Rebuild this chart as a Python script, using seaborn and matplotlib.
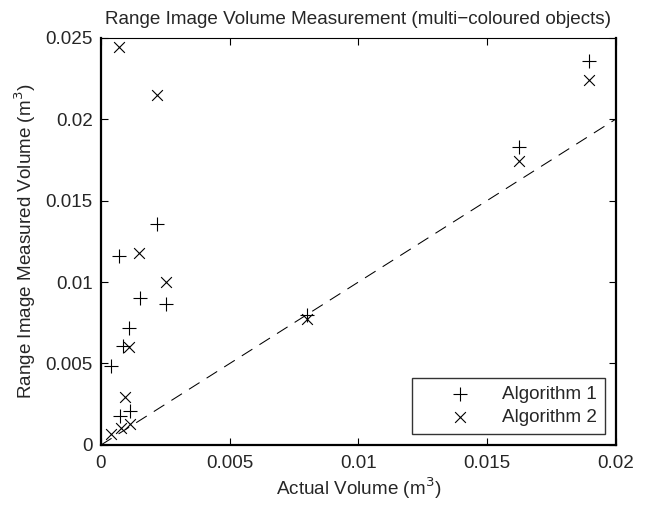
import matplotlib
matplotlib.use("Agg")
import matplotlib.pyplot as plt
import seaborn as sns

# Algorithm 1 (+) points
alg1_x = [0.00219, 0.00070, 0.00151, 0.00252, 0.00110, 0.00084, 0.00039, 0.00074, 0.00113, 0.00801, 0.01623, 0.01894]
alg1_y = [0.01354, 0.01160, 0.00900, 0.00863, 0.00716, 0.00609, 0.00485, 0.00178, 0.00209, 0.00798, 0.01830, 0.02356]

# Algorithm 2 (x) points
alg2_x = [0.00071, 0.00219, 0.00149, 0.00251, 0.00108, 0.00094, 0.00039, 0.00077, 0.00113, 0.00801, 0.01623, 0.01894]
alg2_y = [0.02440, 0.02145, 0.01176, 0.00998, 0.00603, 0.00296, 0.00067, 0.00102, 0.00127, 0.00771, 0.01742, 0.02239]

# ideal y = x line
ideal = [0.0, 0.02]

xticks = [0, 0.005, 0.01, 0.015, 0.02]
yticks = [0, 0.005, 0.01, 0.015, 0.02, 0.025]

sns.set_style("ticks")
plt.rcParams["font.family"] = ["Liberation Sans", "DejaVu Sans"]
fs = 13.6
plt.rcParams["font.size"] = fs

fig = plt.figure(figsize=(6.49, 5.07), dpi=100)
ax = fig.add_axes([0.1556, 0.1223, 0.7935, 0.8037])

sns.lineplot(x=ideal, y=ideal, color="k", lw=0.75, linestyle=(0, (12, 8)), ax=ax)
sns.scatterplot(x=alg1_x, y=alg1_y, marker="+", color="k", s=95, linewidth=0.8,
                label="Algorithm 1", ax=ax)
sns.scatterplot(x=alg2_x, y=alg2_y, marker="x", color="k", s=60, linewidth=0.8,
                label="Algorithm 2", ax=ax)

ax.set_xlim(0, 0.02)
ax.set_ylim(0, 0.025)
ax.set_xticks(xticks)
ax.set_yticks(yticks)
ax.set_xticklabels(["0", "0.005", "0.01", "0.015", "0.02"])
ax.set_yticklabels(["0", "0.005", "0.01", "0.015", "0.02", "0.025"])
ax.tick_params(direction="in", top=True, right=True, length=5, width=0.8,
               labelsize=fs, color="k")
ax.tick_params(axis="x", pad=7)
ax.tick_params(axis="y", pad=6)

for side in ["left", "bottom", "right"]:
    ax.spines[side].set_linewidth(1.6)
ax.spines["top"].set_linewidth(0.8)
for s in ax.spines.values():
    s.set_color("k")

ax.set_title("Range Image Volume Measurement (multi\u2212coloured objects)", fontsize=fs, pad=10)
ax.set_xlabel("Actual Volume (m$^3$)", fontsize=fs, labelpad=3)
ax.set_ylabel("Range Image Measured Volume (m$^3$)", fontsize=fs, labelpad=5)

leg = ax.legend(loc="lower right", frameon=True, fancybox=False, fontsize=fs,
                handlelength=4.2, handletextpad=0.15, borderpad=0.4,
                labelspacing=0.3, borderaxespad=0.6)
leg.get_frame().set_edgecolor("k")
leg.get_frame().set_linewidth(1.0)

fig.savefig("out.png", dpi=100)
